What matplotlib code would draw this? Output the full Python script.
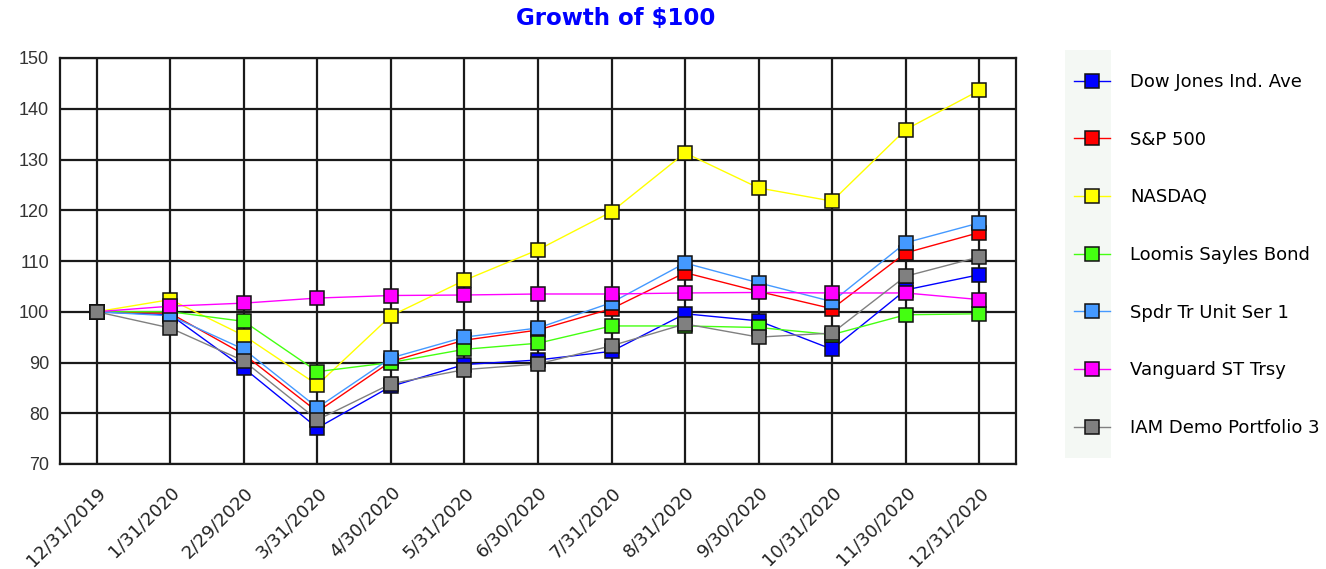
import matplotlib
matplotlib.use("Agg")
import matplotlib.pyplot as plt
from matplotlib.patches import Rectangle

# 数据
dates = ["12/31/2019", "1/31/2020", "2/29/2020", "3/31/2020", "4/30/2020",
         "5/31/2020", "6/30/2020", "7/31/2020", "8/31/2020", "9/30/2020",
         "10/31/2020", "11/30/2020", "12/31/2020"]

dow = [100, 99.4, 88.9, 77.1, 85.3, 89.6, 90.5, 92.2, 99.6, 98.2, 92.6, 104.3, 107.3]
sp500 = [100, 99.7, 91.6, 80.3, 90.2, 94.4, 96.4, 100.6, 107.7, 104.0, 100.6, 111.6, 115.6]
nasdaq = [100, 102.4, 95.3, 85.6, 99.2, 106.2, 112.2, 119.7, 131.3, 124.4, 121.8, 135.9, 143.6]
loomis = [100, 100.0, 98.1, 88.2, 90.0, 92.6, 93.8, 97.2, 97.2, 96.9, 95.5, 99.4, 99.6]
spdr = [100, 99.2, 92.6, 81.1, 90.9, 95.0, 96.8, 101.8, 109.6, 105.7, 102.0, 113.6, 117.5]
vanguard = [100, 101.1, 101.7, 102.7, 103.2, 103.3, 103.5, 103.5, 103.7, 103.8, 103.7, 103.7, 102.4]
iam = [100, 96.8, 90.3, 78.7, 85.8, 88.6, 89.7, 93.3, 97.6, 95.0, 95.8, 107.0, 110.8]

series = [
    ("Dow Jones Ind. Ave", dow, "#0000ff"),
    ("S&P 500", sp500, "#ff0000"),
    ("NASDAQ", nasdaq, "#ffff00"),
    ("Loomis Sayles Bond", loomis, "#44ff11"),
    ("Spdr Tr Unit Ser 1", spdr, "#4499ff"),
    ("Vanguard ST Trsy", vanguard, "#ff00ff"),
    ("IAM Demo Portfolio 3", iam, "#808080"),
]

fig = plt.figure(figsize=(13.26, 5.69), dpi=100)
ax = fig.add_axes([60 / 1326, 105 / 569, 956 / 1326, 406 / 569])

x = list(range(len(dates)))
for name, vals, color in series:
    ax.plot(x, vals, color=color, lw=1.0, marker="s", markersize=9.5,
            markerfacecolor=color, markeredgecolor="#111111",
            markeredgewidth=1.1, label=name, zorder=3)

ax.set_xlim(-0.5, len(dates) - 0.5)
ax.set_ylim(70, 150)
ax.set_yticks(range(70, 151, 10))
ax.set_xticks(x)
ax.set_xticklabels(dates, rotation=45, ha="right", va="top",
                   rotation_mode="anchor", fontsize=13, color="#222222")
for lab in ax.get_yticklabels():
    lab.set_fontsize(13)
    lab.set_color("#333333")
    lab.set_fontfamily("Liberation Sans")
ax.tick_params(axis="both", length=0)
ax.tick_params(axis="y", pad=8)
ax.tick_params(axis="x", pad=14)
ax.grid(True, color="#1a1a1a", lw=1.6, zorder=1)
ax.set_axisbelow(True)
for sp in ax.spines.values():
    sp.set_linewidth(1.6)
    sp.set_color("#1a1a1a")

fig.text(0.4646, 0.968, "Growth of $100", ha="center", va="center",
         fontsize=16.5, fontweight="bold", color="#0000ff")

# 图例背景 (淡色竖条)
fig.patches.append(Rectangle((1065 / 1326, 1 - 458 / 569), 46 / 1326, 408 / 569,
                             transform=fig.transFigure, facecolor="#f4f8f4",
                             edgecolor="none", zorder=0))

leg = fig.legend(loc="upper left", bbox_to_anchor=(1054 / 1326, 1 - 53 / 569),
                 frameon=False, fontsize=13, labelspacing=2.2,
                 handlelength=2.0, handletextpad=1.1, borderpad=0.6,
                 markerscale=1.1)

fig.savefig("out.png", dpi=100)
